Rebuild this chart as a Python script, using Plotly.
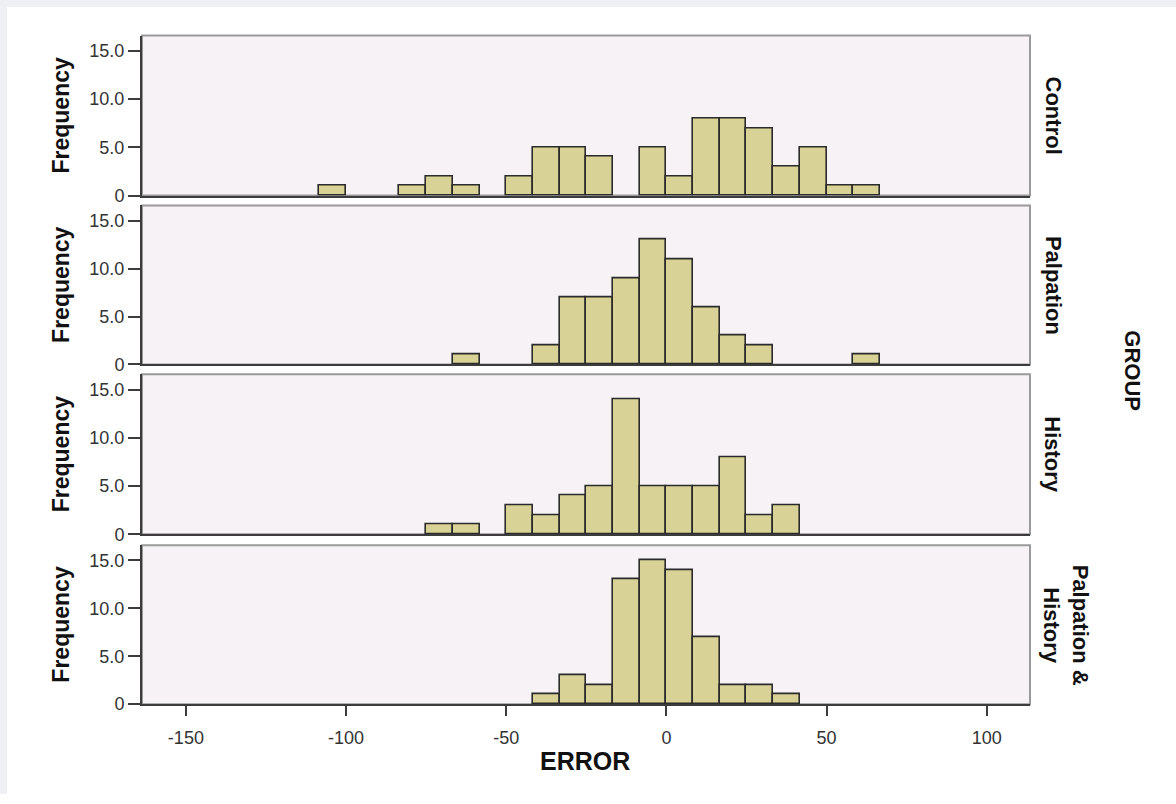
import plotly.graph_objects as go
import numpy as np

W, H = 1176, 804

# ---------------- data ----------------
groups = ["Control", "Palpation", "History", "Palpation &<br>History"]
bin_start = -325 / 3      # left edge of first bin
bin_width = 25 / 3        # SPSS bin width
control = [1, 0, 0, 1, 2, 1, 0, 2, 5, 5, 4, 0, 5, 2, 8, 8, 7, 3, 5, 1, 1]
palpation = [0, 0, 0, 0, 0, 1, 0, 0, 2, 7, 7, 9, 13, 11, 6, 3, 2, 0, 0, 0, 1]
history = [0, 0, 0, 0, 1, 1, 0, 3, 2, 4, 5, 14, 5, 5, 5, 8, 2, 3, 0, 0, 0]
palp_hist = [0, 0, 0, 0, 0, 0, 0, 0, 1, 3, 2, 13, 15, 14, 7, 2, 2, 1, 0, 0, 0]
series = [control, palpation, history, palp_hist]

y_tickvals = [0, 5, 10, 15]
y_ticktext = ["0", "5.0", "10.0", "15.0"]
x_tickvals = [-150, -100, -50, 0, 50, 100]
x_ticktext = ["-150", "-100", "-50", "0", "50", "100"]

# ---------------- layout geometry (pixels) ----------------
left_px, right_px = 142, 1030
tops = [36, 208, 379, 552]
bottoms = [198, 369, 541, 713]

def px(x):
    return x / W

def py(y):
    return 1 - y / H

FONT = "Liberation Sans, Arial, sans-serif"
BAR_FILL = "#d8d296"
BAR_LINE = "#2b2b2b"
PANEL_BG = "#f6f2f6"
AXIS_DARK = "#3c3c3c"
FRAME_GRAY = "#9a9a9a"
BAND = "#eef0f3"

fig = go.Figure()

for i, counts in enumerate(series):
    counts = np.array(counts)
    centers = bin_start + bin_width * (np.arange(len(counts)) + 0.5)
    mask = counts > 0
    suffix = "" if i == 0 else str(i + 1)
    fig.add_trace(go.Bar(
        x=centers[mask], y=counts[mask], width=bin_width,
        marker=dict(color=BAR_FILL, line=dict(color=BAR_LINE, width=1.6)),
        xaxis="x" + suffix, yaxis="y" + suffix, showlegend=False,
        hoverinfo="x+y",
    ))

layout = dict(
    width=W, height=H,
    margin=dict(l=0, r=0, t=0, b=0),
    paper_bgcolor="white",
    plot_bgcolor=PANEL_BG,
    bargap=0,
    font=dict(family=FONT, color="#333"),
    showlegend=False,
)

shapes = [
    dict(type="rect", xref="paper", yref="paper", x0=0, x1=px(7), y0=0, y1=1,
         fillcolor=BAND, line=dict(width=0), layer="below"),
    dict(type="rect", xref="paper", yref="paper", x0=0, x1=1, y0=py(7), y1=1,
         fillcolor=BAND, line=dict(width=0), layer="below"),
]
annotations = []

for i in range(4):
    suffix = "" if i == 0 else str(i + 1)
    xname = "xaxis" + suffix
    yname = "yaxis" + suffix
    last = i == 3
    layout[xname] = dict(
        domain=[px(left_px), px(right_px)],
        range=[-163.7, 113.5],
        anchor="y" + suffix,
        showgrid=False, zeroline=False,
        showline=True, linecolor=AXIS_DARK, linewidth=2,
        ticks="outside" if last else "",
        ticklen=10, tickwidth=2, tickcolor=AXIS_DARK,
        tickvals=x_tickvals, ticktext=x_ticktext,
        showticklabels=last,
        ticklabelstandoff=6,
        tickfont=dict(size=18, color="#333", family=FONT),
    )
    if i > 0:
        layout[xname]["matches"] = "x"
    layout[yname] = dict(
        domain=[py(bottoms[i]), py(tops[i])],
        range=[0, 16.6],
        anchor="x" + suffix,
        showgrid=False, zeroline=False,
        showline=True, linecolor=AXIS_DARK, linewidth=2,
        ticks="outside", ticklen=12, tickwidth=2, tickcolor=AXIS_DARK,
        tickvals=y_tickvals, ticktext=y_ticktext,
        tickfont=dict(size=18, color="#333", family=FONT),
    )
    # panel frame (top / right in gray)
    shapes.append(dict(type="rect", xref="x" + suffix + " domain", yref="y" + suffix + " domain",
                       x0=0, x1=1, y0=0, y1=1, line=dict(color=FRAME_GRAY, width=2),
                       fillcolor="rgba(0,0,0,0)", layer="below"))
    ymid = py((tops[i] + bottoms[i]) / 2)
    annotations.append(dict(text="<b>Frequency</b>", xref="paper", yref="paper",
                            x=px(61), y=ymid, showarrow=False, textangle=-90,
                            font=dict(size=23, color="#111", family=FONT),
                            xanchor="center", yanchor="middle"))
    strip_x = 1053 if i < 3 else 1066
    annotations.append(dict(text="<b>" + groups[i].replace("<br>", "</b><br><b>") + "</b>",
                            xref="paper", yref="paper",
                            x=px(strip_x), y=ymid, showarrow=False, textangle=90,
                            font=dict(size=22, color="#111", family=FONT),
                            xanchor="center", yanchor="middle", align="center"))

annotations.append(dict(text="<b>GROUP</b>", xref="paper", yref="paper",
                        x=px(1133), y=py(375), showarrow=False, textangle=90,
                        font=dict(size=22, color="#111", family=FONT),
                        xanchor="center", yanchor="middle"))
annotations.append(dict(text="<b>ERROR</b>", xref="paper", yref="paper",
                        x=px(585), y=py(771), showarrow=False,
                        font=dict(size=25, color="#111", family=FONT),
                        xanchor="center", yanchor="middle"))

layout["shapes"] = shapes
layout["annotations"] = annotations
fig.update_layout(**layout)

fig.write_html("out.html")
